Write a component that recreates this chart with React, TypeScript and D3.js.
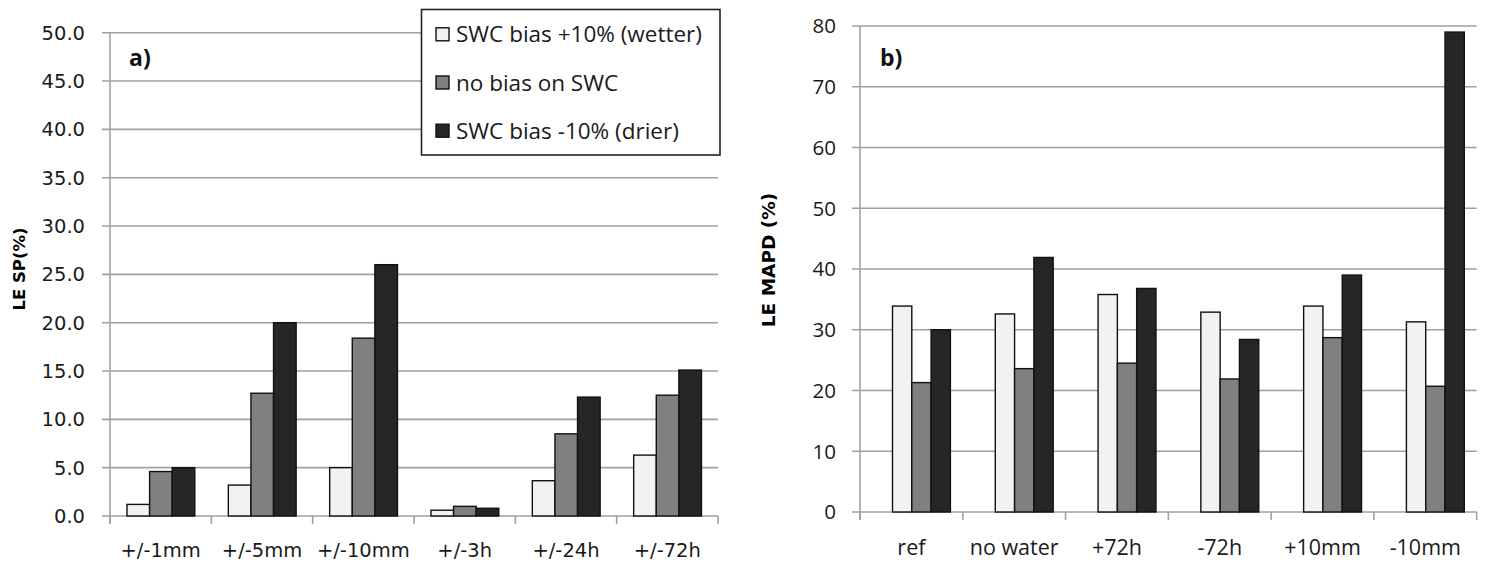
import React from "react";
import * as d3 from "d3";

// ---------- data ----------
const seriesNames = ["SWC bias +10% (wetter)", "no bias on SWC", "SWC bias -10% (drier)"];
const seriesColors = ["#f2f2f2", "#808080", "#262626"];

const catsA = ["+/-1mm", "+/-5mm", "+/-10mm", "+/-3h", "+/-24h", "+/-72h"];
const wetterA = [1.2, 3.2, 5.0, 0.6, 3.65, 6.3];
const noBiasA = [4.6, 12.7, 18.4, 1.0, 8.5, 12.5];
const drierA = [5.0, 20.0, 26.0, 0.8, 12.3, 15.1];
const ticksA = [0, 5, 10, 15, 20, 25, 30, 35, 40, 45, 50];

const catsB = ["ref", "no water", "+72h", "-72h", "+10mm", "-10mm"];
const wetterB = [33.9, 32.6, 35.8, 32.9, 33.9, 31.3];
const noBiasB = [21.3, 23.6, 24.5, 21.9, 28.7, 20.7];
const drierB = [30.0, 41.9, 36.8, 28.4, 39.0, 79.0];
const ticksB = [0, 10, 20, 30, 40, 50, 60, 70, 80];

type PanelProps = {
  cats: string[];
  series: number[][];
  ticks: number[];
  yMax: number;
  x0: number; x1: number; y0: number; y1: number;
  groupOffset: number; barW: number;
  tickFmt: (v: number) => string;
  tickFont: string; tickSize: number; tickLabelRight: number;
  xLabelFont: string; xLabelSize: number; xLabelY: number;
  title: string; titleX: number; titleY: number; titleSize: number;
  panelLabel: string; panelX: number; panelY: number;
};

function Panel(p: PanelProps) {
  const x = d3.scaleBand<string>().domain(p.cats).range([p.x0, p.x1]).paddingInner(0).paddingOuter(0);
  const y = d3.scaleLinear().domain([0, p.yMax]).range([p.y0, p.y1]);
  const inner = d3.scaleBand<number>().domain(p.series.map((_, i) => i))
    .range([p.groupOffset, p.groupOffset + p.barW * p.series.length]).padding(0);
  const grid = "#a0a0a0";
  const boundaries = p.cats.map((c) => x(c) as number).concat([p.x1]);
  return (
    <g>
      {p.ticks.map((t) => (
        <g key={"t" + t}>
          <line x1={p.x0 - 8} x2={p.x1} y1={y(t)} y2={y(t)} stroke={grid} strokeWidth={1.6} />
          <text x={p.tickLabelRight} y={y(t)} dy="0.36em" textAnchor="end"
            fontFamily={p.tickFont} fontSize={p.tickSize} fill="#1a1a1a">{p.tickFmt(t)}</text>
        </g>
      ))}
      <line x1={p.x0} x2={p.x0} y1={p.y1} y2={p.y0 + 8} stroke={grid} strokeWidth={1.6} />
      {boundaries.map((b, i) => (
        <line key={"b" + i} x1={b} x2={b} y1={p.y0} y2={p.y0 + 8} stroke={grid} strokeWidth={1.6} />
      ))}
      {p.cats.map((c, ci) => (
        <g key={c}>
          {p.series.map((s, si) => (
            <rect key={si}
              x={(x(c) as number) + (inner(si) as number)}
              y={y(s[ci])}
              width={inner.bandwidth()}
              height={p.y0 - y(s[ci])}
              fill={seriesColors[si]} stroke="#111" strokeWidth={1.4} />
          ))}
          <text x={(x(c) as number) + x.bandwidth() / 2} y={p.xLabelY} textAnchor="middle"
            fontFamily={p.xLabelFont} fontSize={p.xLabelSize} fill="#1a1a1a">{c}</text>
        </g>
      ))}
      <text transform={`translate(${p.titleX},${p.titleY}) rotate(-90)`} textAnchor="middle"
        fontFamily="DejaVu Sans" fontWeight="bold" fontSize={p.titleSize} fill="#000">{p.title}</text>
      <text x={p.panelX} y={p.panelY} fontFamily="Open Sans" fontWeight="bold" fontSize={23} fill="#111">{p.panelLabel}</text>
    </g>
  );
}

export default function App() {
  return (
    <svg width={1488} height={566} style={{ position: "absolute", left: 0, top: 0, background: "#fff" }}>
      <rect x={0} y={0} width={1488} height={566} fill="#fff" />
      <Panel
        cats={catsA} series={[wetterA, noBiasA, drierA]} ticks={ticksA} yMax={50}
        x0={110} x1={718} y0={516} y1={32.7}
        groupOffset={17} barW={22.6}
        tickFmt={(v) => v.toFixed(1)} tickFont="DejaVu Sans" tickSize={19.5} tickLabelRight={85}
        xLabelFont="DejaVu Sans" xLabelSize={19.5} xLabelY={557}
        title="LE SP(%)" titleX={25} titleY={269} titleSize={16.5}
        panelLabel="a)" panelX={129} panelY={66}
      />
      <Panel
        cats={catsB} series={[wetterB, noBiasB, drierB]} ticks={ticksB} yMax={80}
        x0={860} x1={1476.7} y0={512} y1={26}
        groupOffset={32.5} barW={19.3}
        tickFmt={(v) => String(v)} tickFont="Open Sans" tickSize={20.5} tickLabelRight={836}
        xLabelFont="Open Sans" xLabelSize={21.5} xLabelY={555}
        title="LE MAPD (%)" titleX={775} titleY={260} titleSize={18.5}
        panelLabel="b)" panelX={880} panelY={66}
      />
      {/* legend */}
      <g>
        <rect x={421.5} y={9.5} width={298.5} height={145.5} fill="#fff" stroke="#222" strokeWidth={1.6} />
        {seriesNames.map((n, i) => (
          <g key={n} transform={`translate(0,${34.3 + i * 48.2})`}>
            <rect x={436} y={-6.5} width={13} height={13} fill={seriesColors[i]} stroke="#111" strokeWidth={1.4} />
            <text x={456} y={0} dy="0.36em" fontFamily="Open Sans" fontSize={22.5} fill="#1a1a1a">{n}</text>
          </g>
        ))}
      </g>
    </svg>
  );
}
